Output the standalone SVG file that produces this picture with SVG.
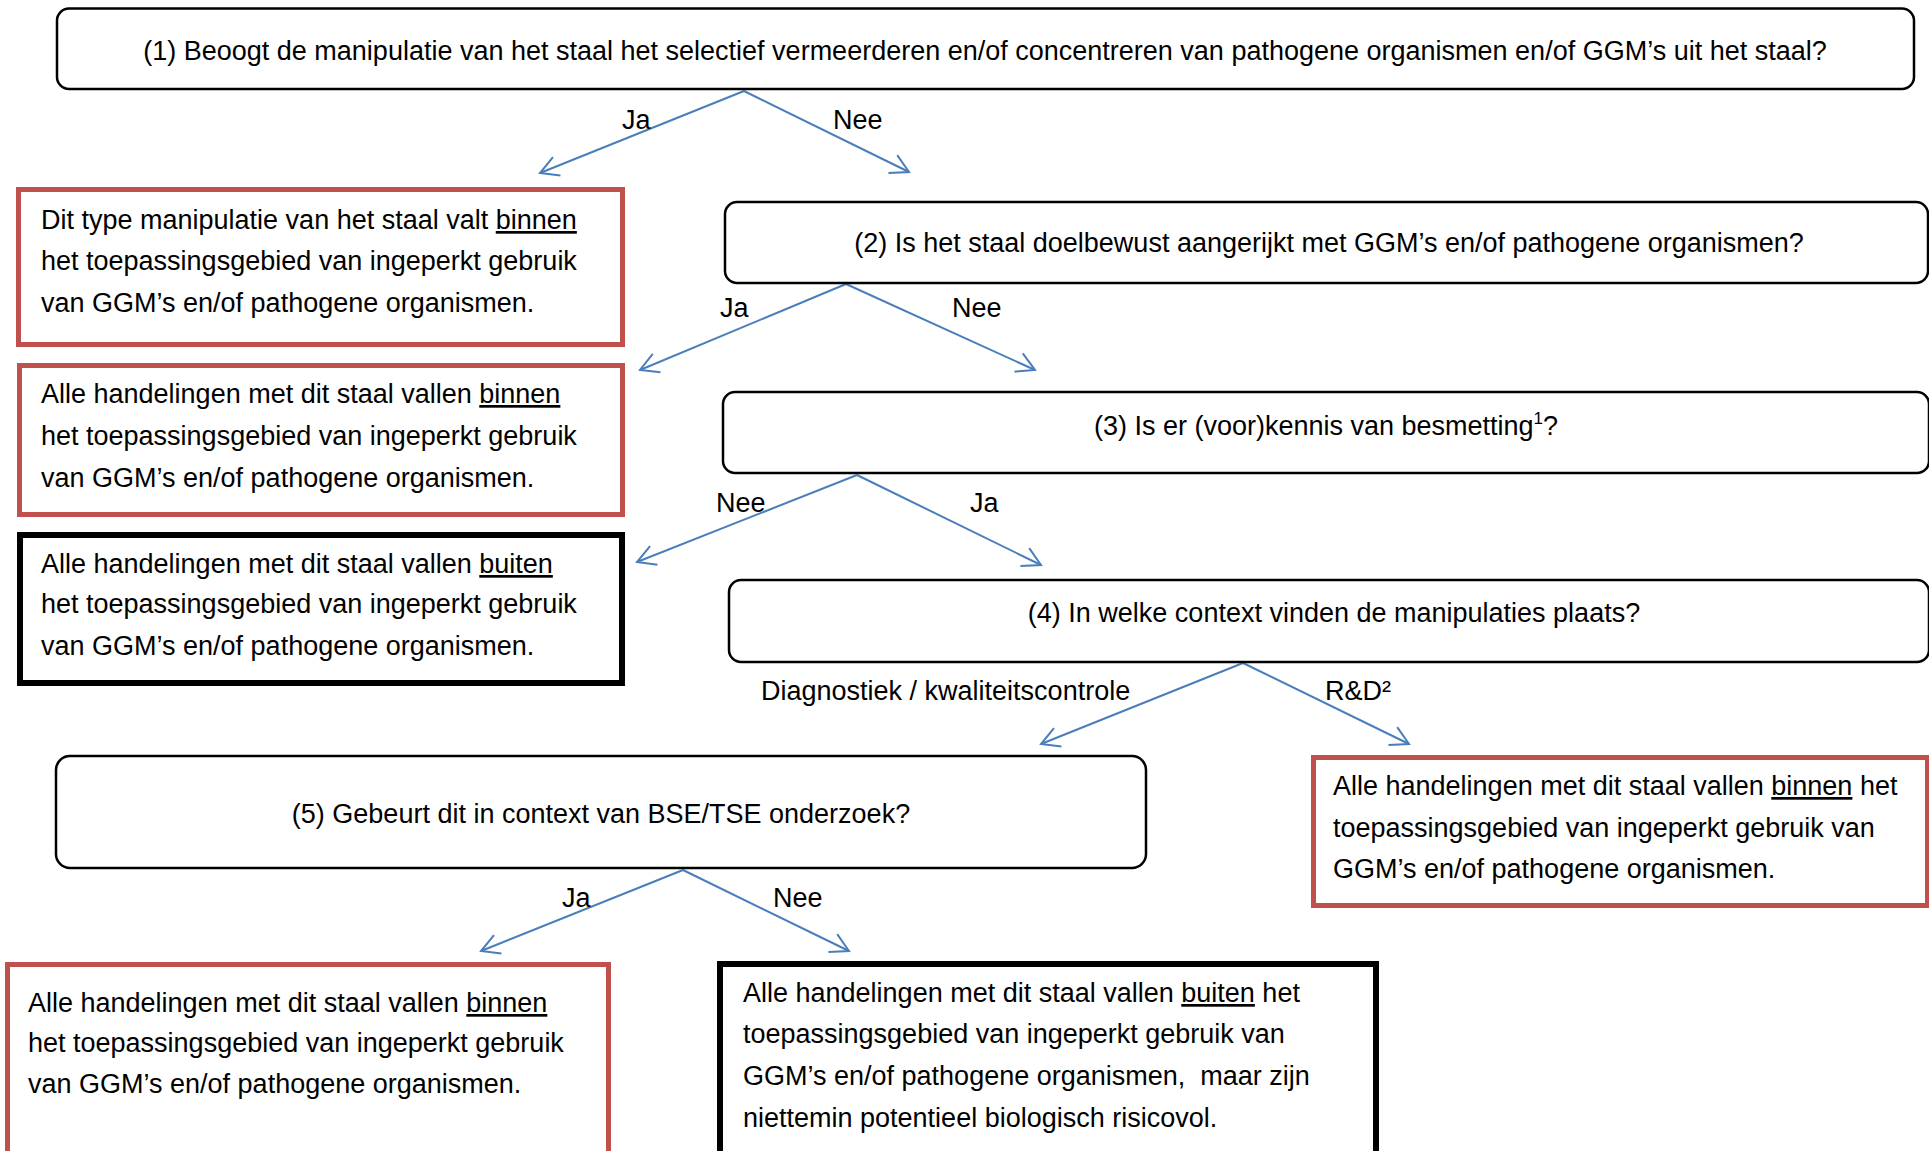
<svg xmlns="http://www.w3.org/2000/svg" width="1929" height="1151" viewBox="0 0 1929 1151">
<defs>
<marker id="arr" markerUnits="userSpaceOnUse" markerWidth="30" markerHeight="30" viewBox="-22 -15 30 30" refX="0" refY="0" orient="auto">
<path d="M -18 -10 L 0 0 L -18 10" fill="none" stroke="#4a7ebb" stroke-width="2"/>
</marker>
<style>
text { font-family: "Liberation Sans", Arial, sans-serif; font-size: 27px; fill: #000; }
.c { text-anchor: middle; }
.q { fill: #fff; stroke: #000; stroke-width: 2.5; }
.red { fill: #fff; stroke: #c0504d; stroke-width: 5; }
.blk { fill: #fff; stroke: #000; stroke-width: 6; }
.con line { stroke: #4a7ebb; stroke-width: 2; marker-end: url(#arr); }
.u { text-decoration: underline; }
</style>
</defs>
<rect width="1929" height="1151" fill="#fff"/>

<g id="connectors" class="con">
<line x1="744" y1="91" x2="540" y2="173"/>
<line x1="744" y1="91" x2="909" y2="172"/>
<line x1="846" y1="284" x2="640" y2="370"/>
<line x1="846" y1="284" x2="1035" y2="370"/>
<line x1="857" y1="475" x2="637" y2="562"/>
<line x1="857" y1="475" x2="1041" y2="565"/>
<line x1="1243" y1="663" x2="1041" y2="744"/>
<line x1="1243" y1="663" x2="1409" y2="744"/>
<line x1="683" y1="870" x2="481" y2="951"/>
<line x1="683" y1="870" x2="849" y2="951"/>
</g>

<g id="labels">
<text x="622" y="129">Ja</text>
<text x="833" y="129">Nee</text>
<text x="720" y="317">Ja</text>
<text x="952" y="317">Nee</text>
<text x="716" y="512">Nee</text>
<text x="970" y="512">Ja</text>
<text x="761" y="700">Diagnostiek / kwaliteitscontrole</text>
<text x="1325" y="700">R&amp;D²</text>
<text x="562" y="907">Ja</text>
<text x="773" y="907">Nee</text>
</g>

<g id="q1">
<rect class="q" x="57" y="8.5" width="1857" height="80.5" rx="12"/>
<text class="c" x="985" y="60">(1) Beoogt de manipulatie van het staal het selectief vermeerderen en/of concentreren van pathogene organismen en/of GGM’s uit het staal?</text>
</g>

<g id="q2">
<rect class="q" x="725" y="202" width="1203" height="81" rx="12"/>
<text class="c" x="1329" y="252">(2) Is het staal doelbewust aangerijkt met GGM’s en/of pathogene organismen?</text>
</g>

<g id="q3">
<rect class="q" x="723" y="392" width="1206" height="81" rx="12"/>
<text class="c" x="1326" y="435">(3) Is er (voor)kennis van besmetting<tspan font-size="17" dy="-11">1</tspan><tspan dy="11">?</tspan></text>
</g>

<g id="q4">
<rect class="q" x="729" y="580" width="1200" height="82" rx="12"/>
<text class="c" x="1334" y="622">(4) In welke context vinden de manipulaties plaats?</text>
</g>

<g id="q5">
<rect class="q" x="56" y="756" width="1090" height="112" rx="14"/>
<text class="c" x="601" y="823">(5) Gebeurt dit in context van BSE/TSE onderzoek?</text>
</g>

<g id="rA">
<rect class="red" x="18.5" y="189.5" width="604" height="155"/>
<text x="41" y="229">Dit type manipulatie van het staal valt <tspan class="u">binnen</tspan></text>
<text x="41" y="270">het toepassingsgebied van ingeperkt gebruik</text>
<text x="41" y="312">van GGM’s en/of pathogene organismen.</text>
</g>

<g id="rB">
<rect class="red" x="19.5" y="365.5" width="603" height="149"/>
<text x="41" y="403">Alle handelingen met dit staal vallen <tspan class="u">binnen</tspan></text>
<text x="41" y="445">het toepassingsgebied van ingeperkt gebruik</text>
<text x="41" y="487">van GGM’s en/of pathogene organismen.</text>
</g>

<g id="rC">
<rect class="blk" x="20" y="535" width="602" height="148"/>
<text x="41" y="573">Alle handelingen met dit staal vallen <tspan class="u">buiten</tspan></text>
<text x="41" y="613">het toepassingsgebied van ingeperkt gebruik</text>
<text x="41" y="655">van GGM’s en/of pathogene organismen.</text>
</g>

<g id="rD">
<rect class="red" x="1313.5" y="757.5" width="614" height="148"/>
<text x="1333" y="795">Alle handelingen met dit staal vallen <tspan class="u">binnen</tspan> het</text>
<text x="1333" y="837">toepassingsgebied van ingeperkt gebruik van</text>
<text x="1333" y="878">GGM’s en/of pathogene organismen.</text>
</g>

<g id="rE">
<rect class="red" x="7.5" y="964.5" width="601" height="220"/>
<text x="28" y="1012">Alle handelingen met dit staal vallen <tspan class="u">binnen</tspan></text>
<text x="28" y="1052">het toepassingsgebied van ingeperkt gebruik</text>
<text x="28" y="1093">van GGM’s en/of pathogene organismen.</text>
</g>

<g id="rF">
<rect class="blk" x="720" y="964" width="656" height="220"/>
<text x="743" y="1002">Alle handelingen met dit staal vallen <tspan class="u">buiten</tspan> het</text>
<text x="743" y="1043">toepassingsgebied van ingeperkt gebruik van</text>
<text x="743" y="1085" xml:space="preserve">GGM’s en/of pathogene organismen,  maar zijn</text>
<text x="743" y="1127">niettemin potentieel biologisch risicovol.</text>
</g>
</svg>
